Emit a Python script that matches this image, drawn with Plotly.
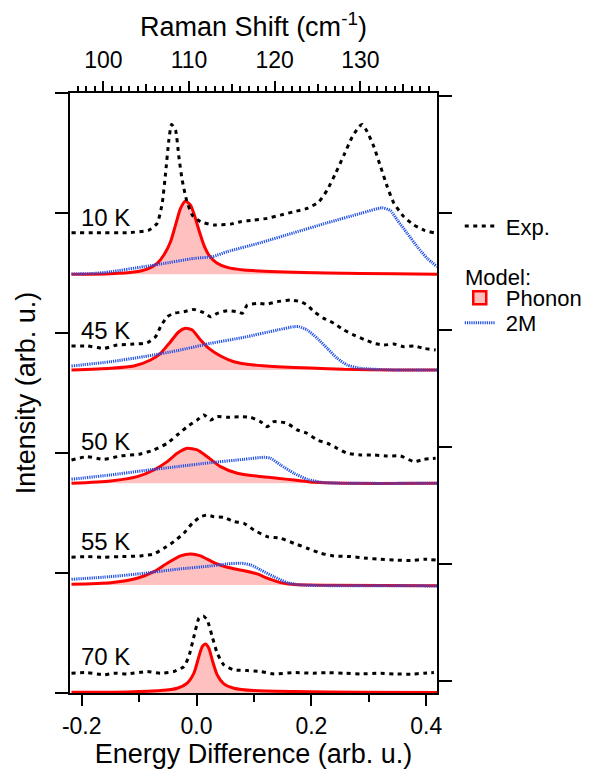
import plotly.graph_objects as go

# ---------------- data ----------------
x_range = [-0.2204, 0.4188]
raman_range = [96.1, 138.95]
left_range = [-0.001, 5.001]
right_range = [-0.103, 5.026]

temps = ["10 K", "45 K", "50 K", "55 K", "70 K"]
label_x = -0.2056
label_y = [3.962, 3.025, 2.092, 1.258, 0.30]
baselines = [3.489, 2.692, 1.747, 0.9, 0.0]

exp10_x = [-0.2178,-0.179,-0.1208,-0.083,-0.0685,-0.0598,-0.054,-0.0482,-0.0436,-0.0366,-0.0308,-0.025,-0.0174,-0.0075,0.007,0.0302,0.0592,0.0767,0.0999,0.1231,0.1463,0.1696,0.1928,0.2131,0.2276,0.2422,0.2567,0.2712,0.2828,0.2886,0.2973,0.3089,0.3206,0.3322,0.3438,0.3612,0.3786,0.396,0.4134]
exp10_y = [3.836,3.836,3.836,3.858,3.914,4.081,4.331,4.608,4.739,4.692,4.469,4.275,4.108,3.983,3.928,3.9,3.908,3.928,3.942,3.956,3.983,4.011,4.039,4.094,4.192,4.331,4.483,4.636,4.719,4.739,4.678,4.553,4.386,4.219,4.081,3.969,3.9,3.858,3.836]
ph10_x = [-0.2178,-0.1498,-0.1092,-0.0859,-0.0685,-0.0569,-0.0453,-0.0366,-0.0279,-0.0192,-0.0105,-0.0046,0.0041,0.0128,0.0215,0.036,0.0534,0.0825,0.1405,0.2277,0.3438,0.4193]
ph10_y = [3.489,3.494,3.508,3.533,3.581,3.65,3.761,3.9,4.039,4.1,4.067,3.997,3.858,3.733,3.65,3.581,3.547,3.525,3.511,3.5,3.494,3.489]
m10_x = [-0.2178,-0.1789,-0.1498,-0.0918,-0.0627,-0.0046,0.0273,0.0534,0.1115,0.1696,0.2277,0.2857,0.3235,0.338,0.3496,0.367,0.3845,0.4019,0.4193]
m10_y = [3.492,3.497,3.511,3.553,3.575,3.622,3.636,3.678,3.753,3.836,3.919,3.997,4.044,4.019,3.942,3.831,3.719,3.622,3.553]

exp45_x = [-0.2178,-0.1905,-0.1614,-0.1382,-0.1092,-0.0859,-0.0714,-0.0627,-0.0511,-0.0395,-0.0221,-0.0046,0.0128,0.0244,0.036,0.0534,0.0709,0.0796,0.0883,0.1057,0.1231,0.1405,0.1638,0.1812,0.1928,0.2044,0.2218,0.2392,0.2567,0.2741,0.2915,0.3089,0.3264,0.3438,0.3612,0.3786,0.396,0.4164]
exp45_y = [2.892,2.892,2.872,2.9,2.908,2.919,2.969,3.053,3.136,3.164,3.178,3.197,3.169,3.136,3.164,3.186,3.178,3.164,3.233,3.247,3.242,3.261,3.275,3.261,3.233,3.178,3.122,3.081,3.025,2.983,2.947,2.914,2.9,2.908,2.886,2.892,2.872,2.858]
ph45_x = [-0.2178,-0.1498,-0.1092,-0.0801,-0.0627,-0.0453,-0.0308,-0.0192,-0.0075,0.007,0.0215,0.0418,0.065,0.0999,0.1405,0.1986,0.2567,0.3438,0.4193]
ph45_y = [2.692,2.706,2.725,2.775,2.831,2.928,3.011,3.039,3.025,2.942,2.872,2.808,2.761,2.733,2.719,2.708,2.697,2.692,2.692]
m45_x = [-0.2178,-0.1498,-0.0918,-0.0337,0.0244,0.0825,0.1405,0.1696,0.1783,0.1928,0.2102,0.2277,0.2451,0.2625,0.2857,0.3438,0.4193]
m45_y = [2.725,2.761,2.803,2.853,2.914,2.964,3.025,3.053,3.053,3.025,2.956,2.872,2.789,2.733,2.706,2.692,2.692]

exp50_x = [-0.2178,-0.1905,-0.1614,-0.1324,-0.0976,-0.0743,-0.0511,-0.0337,-0.0163,0.0012,0.0128,0.0244,0.036,0.0534,0.0767,0.0941,0.1115,0.1231,0.1347,0.158,0.1754,0.1928,0.2102,0.2277,0.2451,0.2625,0.2857,0.3089,0.3322,0.3554,0.3786,0.396,0.4164]
exp50_y = [1.942,1.969,1.947,1.975,1.992,2.025,2.081,2.15,2.219,2.275,2.317,2.275,2.303,2.297,2.303,2.297,2.261,2.219,2.261,2.247,2.192,2.164,2.108,2.081,2.039,1.997,1.983,1.983,1.975,1.975,1.928,1.947,1.956]
ph50_x = [-0.2178,-0.1498,-0.1034,-0.0743,-0.0511,-0.0337,-0.0163,0.0012,0.0186,0.0418,0.0709,0.1115,0.1405,0.1696,0.2044,0.2567,0.4193]
ph50_y = [1.747,1.767,1.803,1.858,1.928,1.997,2.039,2.025,1.969,1.886,1.831,1.803,1.789,1.775,1.756,1.747,1.747]
m50_x = [-0.2178,-0.1498,-0.0918,-0.0337,0.0244,0.0825,0.1173,0.1289,0.1463,0.1696,0.1928,0.2218,0.2857,0.4193]
m50_y = [1.781,1.817,1.853,1.886,1.919,1.947,1.964,1.956,1.9,1.831,1.781,1.753,1.747,1.747]

exp55_x = [-0.2178,-0.1905,-0.1614,-0.1324,-0.0976,-0.0743,-0.0569,-0.0395,-0.0221,-0.0075,0.007,0.0186,0.0302,0.0476,0.065,0.0825,0.0999,0.1231,0.1463,0.1696,0.1928,0.216,0.2392,0.2683,0.2973,0.3206,0.3438,0.3728,0.396,0.4164]
exp55_y = [1.131,1.136,1.131,1.136,1.142,1.158,1.206,1.261,1.331,1.414,1.469,1.483,1.469,1.464,1.428,1.414,1.358,1.303,1.289,1.247,1.206,1.164,1.142,1.136,1.122,1.114,1.108,1.103,1.114,1.108]
ph55_x = [-0.2178,-0.1498,-0.1034,-0.0743,-0.0511,-0.0279,-0.0105,0.007,0.0302,0.0534,0.0825,0.1057,0.1231,0.1463,0.1696,0.2277,0.4193]
ph55_y = [0.906,0.919,0.956,1.011,1.081,1.142,1.158,1.142,1.086,1.047,1.019,0.992,0.956,0.919,0.903,0.897,0.894]
m55_x = [-0.2178,-0.1498,-0.0918,-0.0337,0.0244,0.0534,0.0767,0.0941,0.1115,0.1347,0.158,0.1812,0.2277,0.4193]
m55_y = [0.947,0.969,0.997,1.031,1.058,1.075,1.081,1.067,1.025,0.969,0.919,0.9,0.894,0.892]

exp70_x = [-0.2178,-0.1905,-0.1614,-0.144,-0.1208,-0.0859,-0.0627,-0.0395,-0.0221,-0.0134,-0.0046,0.0041,0.0116,0.0186,0.0273,0.036,0.0476,0.065,0.0883,0.1115,0.1347,0.1696,0.2044,0.2277,0.2567,0.2857,0.3206,0.3438,0.3728,0.396,0.4134]
exp70_y = [0.164,0.169,0.15,0.164,0.158,0.178,0.164,0.178,0.219,0.303,0.469,0.622,0.642,0.608,0.469,0.331,0.233,0.192,0.186,0.178,0.158,0.169,0.164,0.169,0.164,0.158,0.164,0.158,0.156,0.164,0.169]
ph70_x = [-0.2178,-0.1208,-0.0627,-0.0337,-0.0163,-0.0046,0.0041,0.0099,0.0157,0.0215,0.0273,0.036,0.0476,0.065,0.0999,0.1696,0.2857,0.4193]
ph70_y = [0.006,0.008,0.019,0.039,0.081,0.164,0.303,0.386,0.408,0.372,0.275,0.15,0.075,0.039,0.019,0.011,0.006,0.003]

exp_x = [exp10_x, exp45_x, exp50_x, exp55_x, exp70_x]
exp_y = [exp10_y, exp45_y, exp50_y, exp55_y, exp70_y]
ph_x = [ph10_x, ph45_x, ph50_x, ph55_x, ph70_x]
ph_y = [ph10_y, ph45_y, ph50_y, ph55_y, ph70_y]
m_x = [m10_x, m45_x, m50_x, m55_x, None]
m_y = [m10_y, m45_y, m50_y, m55_y, None]

# ---------------- styles ----------------
FONT = "Liberation Sans, Arial, Helvetica, sans-serif"
RED = "#ff0000"
PINK = "#ffc0c0"
BLUE = "#1f4fe6"
EXP_DASH = "4px,4.5px"
NB = "\u00a0"

fig = go.Figure()

for i in range(len(temps)):
    b = baselines[i]
    fig.add_trace(go.Scatter(x=[ph_x[i][0], ph_x[i][-1]], y=[b, b], mode="lines",
                             line=dict(width=0), showlegend=False, hoverinfo="skip"))
    fig.add_trace(go.Scatter(x=ph_x[i], y=ph_y[i], mode="lines", fill="tonexty",
                             fillcolor=PINK, line=dict(width=0, shape="spline", smoothing=0.6),
                             showlegend=False, hoverinfo="skip"))
    fig.add_trace(go.Scatter(x=ph_x[i], y=ph_y[i], mode="lines",
                             line=dict(color=RED, width=3, shape="spline", smoothing=0.6),
                             showlegend=False))
    if m_x[i] is not None:
        fig.add_trace(go.Scatter(x=m_x[i], y=m_y[i], mode="lines",
                                 line=dict(color=BLUE, width=3, dash="1.2px,1px", shape="spline", smoothing=0.6),
                                 name=NB + "2M", legend="legend3", showlegend=(i == 0)))
    fig.add_trace(go.Scatter(x=exp_x[i], y=exp_y[i], mode="lines",
                             line=dict(color="black", width=3, dash=EXP_DASH, shape="spline", smoothing=0.5),
                             name=NB + "Exp.", legend="legend", showlegend=(i == 0)))

# legend-only phonon entry (filled box with red border)
fig.add_trace(go.Scatter(x=[None], y=[None], mode="markers", name=NB + "Phonon",
                         marker=dict(symbol="square", size=13, color=PINK, line=dict(color=RED, width=2.5)),
                         legend="legend2"))

# dummy traces so that the secondary axes are drawn
fig.add_trace(go.Scatter(x=[raman_range[0]], y=[None], xaxis="x2", yaxis="y", mode="lines",
                         showlegend=False, hoverinfo="skip"))
fig.add_trace(go.Scatter(x=[raman_range[0]], y=[None], xaxis="x3", yaxis="y", mode="lines",
                         showlegend=False, hoverinfo="skip"))
fig.add_trace(go.Scatter(x=[x_range[0]], y=[None], xaxis="x", yaxis="y2", mode="lines",
                         showlegend=False, hoverinfo="skip"))

for t, ly in zip(temps, label_y):
    fig.add_annotation(x=label_x, y=ly, text=t, showarrow=False, xanchor="left", yanchor="middle",
                       font=dict(size=24, family=FONT, color="black"))

# legend group heading
fig.add_annotation(xref="paper", yref="paper", x=1.0708, y=0.6933, text="Model:", showarrow=False,
                   xanchor="left", yanchor="middle", font=dict(size=22, family=FONT, color="black"))

axis_common = dict(showgrid=False, zeroline=False, linecolor="black", linewidth=2,
                   tickcolor="black", tickwidth=2)

LEG_X = 1.062
leg_common = dict(x=LEG_X, xanchor="left", yanchor="top", bgcolor="rgba(0,0,0,0)",
                  font=dict(size=22), itemwidth=30)

fig.update_layout(
    width=601, height=773,
    margin=dict(l=70, r=164, t=93, b=80),
    paper_bgcolor="white", plot_bgcolor="white",
    font=dict(family=FONT, size=22, color="black"),
    xaxis=dict(range=x_range, showline=True, ticks="outside", ticklen=11,
               tickvals=[-0.2, 0.0, 0.2, 0.4], ticktext=["-0.2", "0.0", "0.2", "0.4"],
               minor=dict(tickvals=[-0.1, 0.1, 0.3], ticklen=7, tickwidth=2, tickcolor="black", ticks="outside"),
               tickfont=dict(size=23), ticklabelstandoff=0,
               title=dict(text="Energy Difference (arb. u.)", font=dict(size=27), standoff=4),
               **axis_common),
    xaxis2=dict(range=raman_range, overlaying="x", side="top", anchor="y", showline=True,
                ticks="outside", ticklen=10, tick0=100, dtick=10,
                minor=dict(dtick=1, tick0=100, ticklen=5, tickwidth=1.5, tickcolor="black", ticks="outside"),
                tickfont=dict(size=23), ticklabelstandoff=4,
                title=dict(text="Raman Shift (cm<sup>-1</sup>)", font=dict(size=27), standoff=2),
                **axis_common),
    xaxis3=dict(range=raman_range, overlaying="x", side="top", anchor="y", showline=False,
                ticks="outside", ticklen=8, tick0=100, dtick=5, showticklabels=False,
                **axis_common),
    yaxis=dict(range=left_range, showline=True, ticks="outside", ticklen=13, tick0=0, dtick=1,
               showticklabels=False,
               title=dict(text="Intensity (arb. u.)", font=dict(size=27), standoff=12),
               **axis_common),
    yaxis2=dict(range=right_range, overlaying="y", side="right", anchor="x", showline=True,
                ticks="outside", ticklen=13, tick0=0, dtick=1, showticklabels=False,
                **axis_common),
    legend=dict(y=0.813, **leg_common),
    legend2=dict(y=0.6933, **leg_common),
    legend3=dict(y=0.6517, **leg_common),
)

fig.write_html("out.html")
